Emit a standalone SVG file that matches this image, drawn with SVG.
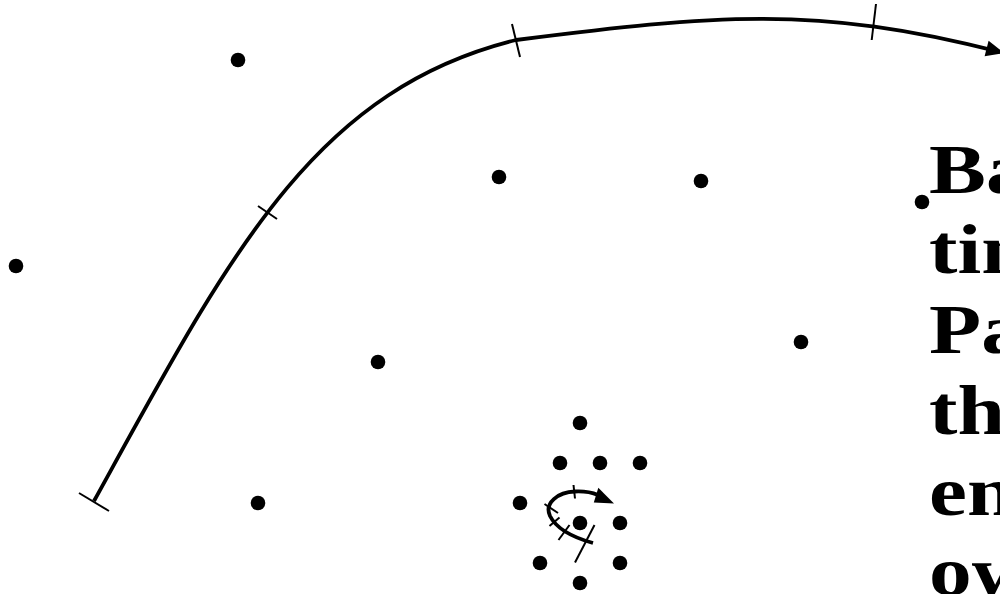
<svg xmlns="http://www.w3.org/2000/svg" width="1000" height="594" viewBox="0 0 1000 594">
<style>
.curve{fill:none;stroke:#000;stroke-width:3.8;stroke-linejoin:round}
.tick{fill:none;stroke:#000;stroke-width:2}
.dot{fill:#000}
.lbl{font-family:"Liberation Serif","Times New Roman",serif;font-weight:bold;font-size:70px;fill:#000}
</style>
<rect width="1000" height="594" fill="#fff"/>
<g id="dots">
<circle class="dot" cx="238" cy="60" r="7.3"/>
<circle class="dot" cx="499" cy="177" r="7.3"/>
<circle class="dot" cx="701" cy="181" r="7.3"/>
<circle class="dot" cx="922" cy="202" r="7.3"/>
<circle class="dot" cx="16" cy="266" r="7.3"/>
<circle class="dot" cx="801" cy="342" r="7.3"/>
<circle class="dot" cx="378" cy="362" r="7.3"/>
<circle class="dot" cx="258" cy="503" r="7.3"/>
<circle class="dot" cx="580" cy="423" r="7.3"/>
<circle class="dot" cx="560" cy="463" r="7.3"/>
<circle class="dot" cx="600" cy="463" r="7.3"/>
<circle class="dot" cx="640" cy="463" r="7.3"/>
<circle class="dot" cx="520" cy="503" r="7.3"/>
<circle class="dot" cx="580" cy="523" r="7.3"/>
<circle class="dot" cx="620" cy="523" r="7.3"/>
<circle class="dot" cx="540" cy="563" r="7.3"/>
<circle class="dot" cx="620" cy="563" r="7.3"/>
<circle class="dot" cx="580" cy="583" r="7.3"/>
</g>
<g id="connectors">
<path class="curve" d="M94,501 C229.2,255.7 312.3,90.4 516,40 C714.4,15 815.7,4.5 1000,52"/>
<polygon points="1004,53 984.6,56.2 988.6,40.8"/>
<line class="tick" x1="79" y1="493" x2="109" y2="511"/>
<line class="tick" x1="258" y1="206" x2="277" y2="219"/>
<line class="tick" x1="512" y1="24" x2="520" y2="57"/>
<line class="tick" x1="876" y1="4" x2="871.7" y2="40"/>
<path class="curve" d="M593,543 C575,538 557,530 550,516 C544,503 558,492 575,491.5 C585,491 592,492.5 598,495"/>
<polygon points="614,503.5 593.8,502.5 598.3,487.8"/>
<line class="tick" x1="573.5" y1="485" x2="575" y2="498.5"/>
<line class="tick" x1="544.5" y1="504" x2="558" y2="513"/>
<line class="tick" x1="549.5" y1="526" x2="559.5" y2="517.5"/>
<line class="tick" x1="558.5" y1="540" x2="569.5" y2="525"/>
<line class="tick" x1="594.5" y1="525" x2="575" y2="562.5"/>
</g>
<g id="text" transform="translate(929,0) scale(1.22,1)">
<text class="lbl" x="0" y="193">Ba</text>
<text class="lbl" x="0" y="273">tin</text>
<text class="lbl" x="0" y="353">Pa</text>
<text class="lbl" x="0" y="434">the</text>
<text class="lbl" x="0" y="515">en</text>
<text class="lbl" x="0" y="595">ow</text>
</g>
</svg>
